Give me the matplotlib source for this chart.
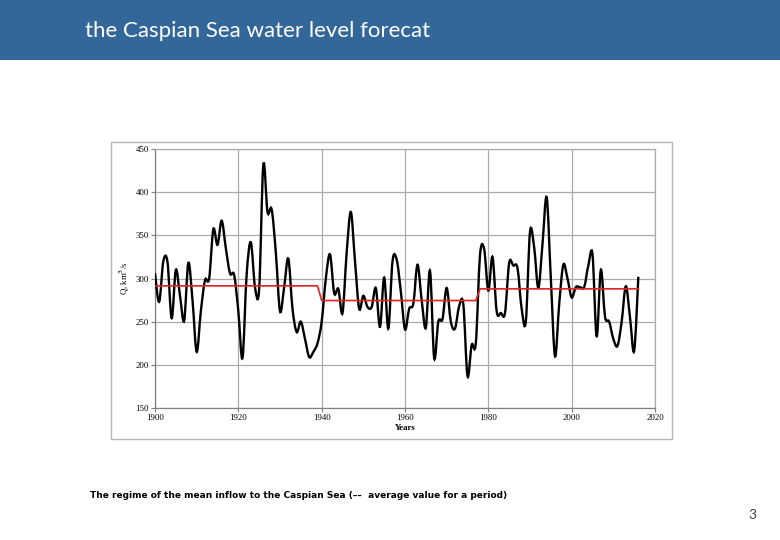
import numpy as np
import matplotlib
matplotlib.use("Agg")
import matplotlib.pyplot as plt
from matplotlib.path import Path
from matplotlib.patches import PathPatch, Rectangle

# annual mean inflow, km3/s-ish units as on the slide, 1900..2016
years = np.arange(1900, 2017)
inflow = [
    306, 273, 320, 319, 254, 310, 280, 251, 318, 275,
    215, 262, 298, 300, 357, 339, 367, 335, 306, 304,
    262, 208, 305, 342, 290, 288, 432, 377, 380, 330,
    262, 290, 323, 265, 238, 250, 230, 209, 215, 225,
    250, 300, 328, 283, 288, 260, 330, 377, 320, 265,
    280, 267, 267, 289, 244, 301, 242, 320, 322, 285,
    241, 265, 271, 316, 275, 243, 309, 208, 250, 253,
    289, 250, 242, 268, 270, 187, 223, 225, 327, 334,
    286, 325, 262, 260, 260, 318, 315, 312, 265, 250,
    354, 336, 289, 340, 394, 300, 210, 270, 316, 300,
    278, 290, 290, 290, 315, 328, 233, 310, 256, 250,
    230, 222, 250, 291, 255, 216, 302,
]

# period averages (red line)
period_start = [1900, 1940, 1978]
period_end = [1939, 1977, 2016]
period_mean = [291.5, 274.5, 288]

title = "the Caspian Sea water level forecat"
caption = "The regime of the mean inflow to the Caspian Sea (\u2013\u2013  average value for a period)"


def smooth_path(x, y):
    # Catmull-Rom style bezier, like Excel's "smoothed line"
    x = np.asarray(x, float)
    y = np.asarray(y, float)
    verts = [(x[0], y[0])]
    codes = [Path.MOVETO]
    n = len(x)
    for i in range(n - 1):
        i0 = max(i - 1, 0)
        i3 = min(i + 2, n - 1)
        c1 = (x[i] + (x[i + 1] - x[i0]) / 6, y[i] + (y[i + 1] - y[i0]) / 6)
        c2 = (x[i + 1] - (x[i3] - x[i]) / 6, y[i + 1] - (y[i3] - y[i]) / 6)
        verts += [c1, c2, (x[i + 1], y[i + 1])]
        codes += [Path.CURVE4] * 3
    return Path(verts, codes)


fig = plt.figure(figsize=(7.8, 5.4), dpi=100)
fig.patch.set_facecolor("white")

# header band
fig.add_artist(Rectangle((0, 1 - 60 / 540), 1, 60 / 540, transform=fig.transFigure,
                         facecolor="#33679a", edgecolor="none"))
fig.text(85 / 780, 1 - 31 / 540, title, color="white", fontsize=16,
         family="Lato", va="center", ha="left")

# frame of the embedded chart picture
fig.add_artist(Rectangle((111 / 780, 1 - 439 / 540), 561 / 780, 297 / 540,
                         transform=fig.transFigure, facecolor="none",
                         edgecolor="#b5b5b5", linewidth=1))

ax = fig.add_axes([155 / 780, 1 - 408 / 540, 500 / 780, 259 / 540])
ax.set_xlim(1900, 2020)
ax.set_ylim(150, 450)
ax.set_xticks(range(1900, 2021, 20))
ax.set_yticks(range(150, 451, 50))
ax.grid(True, color="#ababab", linewidth=0.9)
ax.set_axisbelow(True)
for s in ax.spines.values():
    s.set_color("#ababab")
    s.set_linewidth(0.9)
ax.spines["left"].set_color("#808080")
ax.spines["bottom"].set_color("#808080")
ax.tick_params(length=3, width=0.8, color="#808080", labelsize=6.3, pad=1.5)
for lab in ax.get_xticklabels() + ax.get_yticklabels():
    lab.set_family("Liberation Serif")

ax.add_patch(PathPatch(smooth_path(years, inflow), facecolor="none",
                       edgecolor="black", linewidth=1.7, zorder=3))

# red mean line, ramps between periods
rx, ry = [], []
for a, b, m in zip(period_start, period_end, period_mean):
    rx += [a, b]
    ry += [m, m]
ax.plot(rx, ry, color="#dc2424", linewidth=1.2, zorder=4)

ax.set_xlabel("Years", fontsize=6.3, family="Liberation Serif", fontweight="bold", labelpad=1)
ax.set_ylabel("Q, km$^3$/s", fontsize=6.3, family="Liberation Serif", labelpad=3)

fig.text(90 / 780, 1 - 496 / 540, caption, fontsize=6.45, fontweight="bold",
         family="DejaVu Sans", va="center", ha="left")
fig.text(752 / 780, 1 - 515 / 540, "3", fontsize=10, color="#404040",
         family="Lato", va="center", ha="center")

fig.savefig("out.png", dpi=100)
